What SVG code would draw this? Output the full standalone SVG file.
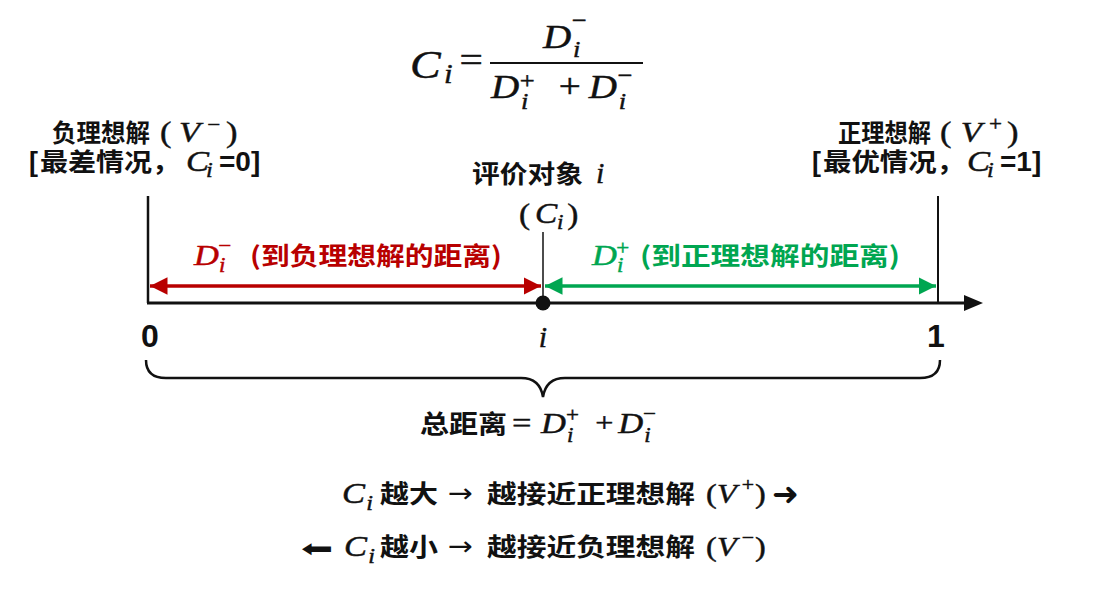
<svg xmlns="http://www.w3.org/2000/svg" width="1118" height="595" viewBox="0 0 1118 595">
<style>
.c{font-family:"Noto Sans CJK SC","Noto Sans",sans-serif;font-weight:700}
.m{font-family:"Liberation Serif","DejaVu Serif",serif;font-style:italic;stroke:#111;stroke-width:0.45}
.red .m{stroke:#B80000}
.grn .m{stroke:#00A651}
.u{font-style:normal}
.b{font-family:"Liberation Sans",Arial,sans-serif;font-weight:700}
.d{font-family:"DejaVu Sans",sans-serif}
.red{fill:#B80000}
.grn{fill:#00A651}
.k{fill:#111}
</style>
<defs>
<marker id="ar" viewBox="0 0 10 10" refX="10" refY="5" markerWidth="5" markerHeight="5" orient="auto-start-reverse" markerUnits="strokeWidth"><path d="M0,0 L10,5 L0,10 z" fill="#B80000"/></marker>
<marker id="ag" viewBox="0 0 10 10" refX="10" refY="5" markerWidth="5" markerHeight="5" orient="auto-start-reverse" markerUnits="strokeWidth"><path d="M0,0 L10,5 L0,10 z" fill="#00A651"/></marker>
</defs>
<rect width="1118" height="595" fill="#fff"/>

<g id="formula" class="k">
<text class="m" transform="translate(410,78) scale(1.15,1)"><tspan x="0" y="0" font-size="40">C</tspan><tspan x="29.5" y="5" font-size="27">i</tspan><tspan class="u" x="43" y="-6" font-size="36">=</tspan></text>
<line x1="490" y1="63" x2="643" y2="63" stroke="#111" stroke-width="2"/>
<text class="m" transform="translate(543,48) scale(1.15,1)" font-size="34"><tspan x="0" y="0">D</tspan><tspan x="26" y="9" font-size="23">i</tspan><tspan class="u" x="25" y="-20" font-size="23">−</tspan></text>
<text class="m" transform="translate(491,98) scale(1.15,1)" font-size="34"><tspan x="0" y="0">D</tspan><tspan x="26" y="11" font-size="23">i</tspan><tspan class="u" x="25" y="-10" font-size="23">+</tspan><tspan class="u" x="59" y="-1" font-size="34">+</tspan><tspan x="85" y="0">D</tspan><tspan x="111" y="11" font-size="23">i</tspan><tspan class="u" x="110" y="-15" font-size="23">−</tspan></text>
</g>

<g id="neg-ideal" class="k">
<text class="c" x="52" y="142" font-size="25" textLength="98" lengthAdjust="spacingAndGlyphs">负理想解</text>
<text class="m" transform="translate(160,142) scale(1.15,1)" font-size="30"><tspan class="u" x="0" y="0">(</tspan><tspan x="16.5" y="0">V</tspan><tspan class="u" x="41" y="-11" font-size="20">−</tspan><tspan class="u" x="57.4" y="0">)</tspan></text>
<text class="b" x="29" y="171" font-size="27">[</text>
<text class="c" x="40" y="171" font-size="25" textLength="140" lengthAdjust="spacingAndGlyphs">最差情况，</text>
<text class="m" transform="translate(186,171) scale(1.15,1)" font-size="30"><tspan x="0" y="0">C</tspan><tspan x="17.5" y="6" font-size="21">i</tspan></text>
<text class="b" x="219" y="171" font-size="28">=0]</text>
</g>

<g id="pos-ideal" class="k">
<text class="c" x="838" y="142" font-size="25" textLength="93" lengthAdjust="spacingAndGlyphs">正理想解</text>
<text class="m" transform="translate(940,142) scale(1.15,1)" font-size="30"><tspan class="u" x="0" y="0">(</tspan><tspan x="18" y="0">V</tspan><tspan class="u" x="42.6" y="-11" font-size="20">+</tspan><tspan class="u" x="58.3" y="0">)</tspan></text>
<text class="b" x="812" y="171" font-size="27">[</text>
<text class="c" x="823" y="171" font-size="25" textLength="142" lengthAdjust="spacingAndGlyphs">最优情况，</text>
<text class="m" transform="translate(967,171) scale(1.15,1)" font-size="30"><tspan x="0" y="0">C</tspan><tspan x="17.5" y="6" font-size="21">i</tspan></text>
<text class="b" x="1000" y="171" font-size="28">=1]</text>
</g>

<g id="object" class="k">
<text class="c" x="472" y="183" font-size="25" textLength="111" lengthAdjust="spacingAndGlyphs">评价对象</text>
<text class="m" x="596" y="183" font-size="30">i</text>
<text class="m" transform="translate(519,224) scale(1.15,1)" font-size="29"><tspan class="u" x="0" y="0">(</tspan><tspan x="14" y="-1">C</tspan><tspan x="33" y="5" font-size="20">i</tspan><tspan class="u" x="42" y="0">)</tspan></text>
</g>

<g id="connectors">
<line x1="148" y1="196" x2="148" y2="303" stroke="#111" stroke-width="2.5"/>
<line x1="938" y1="196" x2="938" y2="303" stroke="#111" stroke-width="2"/>
<line x1="543" y1="232" x2="543" y2="303" stroke="#111" stroke-width="1.5"/>
<line x1="147" y1="303" x2="968" y2="303" stroke="#111" stroke-width="3"/>
<path d="M983,303 L964,295 L964,311 z" fill="#111"/>
<line x1="150" y1="286" x2="541" y2="286" stroke="#B80000" stroke-width="3.5" marker-start="url(#ar)" marker-end="url(#ar)"/>
<line x1="545" y1="286" x2="936" y2="286" stroke="#00A651" stroke-width="3.5" marker-start="url(#ag)" marker-end="url(#ag)"/>
<circle cx="543" cy="303" r="7.5" fill="#111"/>
<path d="M146,360 Q146,378 166,378 L521,378 Q540,378 543,397 Q546,378 565,378 L920,378 Q940,378 940,360" fill="none" stroke="#111" stroke-width="2.5"/>
</g>

<g id="dminus" class="red">
<text class="m" transform="translate(194,265) scale(1.15,1)" font-size="30"><tspan x="0" y="0">D</tspan><tspan x="21.7" y="7" font-size="20">i</tspan><tspan class="u" x="21" y="-13" font-size="20">−</tspan></text>
<text class="c" x="250" y="265" font-size="25" textLength="252" lengthAdjust="spacingAndGlyphs">(到负理想解的距离)</text>
</g>

<g id="dplus" class="grn">
<text class="m" transform="translate(592,265) scale(1.15,1)" font-size="30"><tspan x="0" y="0">D</tspan><tspan x="21.7" y="7" font-size="20">i</tspan><tspan class="u" x="21" y="-10" font-size="20">+</tspan></text>
<text class="c" x="640" y="265" font-size="25" textLength="260" lengthAdjust="spacingAndGlyphs">(到正理想解的距离)</text>
</g>

<g id="ticks" class="k">
<text class="b" x="150" y="347" font-size="32" text-anchor="middle">0</text>
<text class="m" x="543" y="347" font-size="30" text-anchor="middle">i</text>
<text class="b" x="936" y="347" font-size="32" text-anchor="middle">1</text>
</g>

<g id="total" class="k">
<text class="c" x="420" y="433" font-size="25" textLength="87" lengthAdjust="spacingAndGlyphs">总距离</text>
<text class="m" transform="translate(512,433) scale(1.15,1)" font-size="30"><tspan class="u" x="0" y="0" font-size="30">=</tspan><tspan x="25.2" y="0">D</tspan><tspan x="47.8" y="9" font-size="20">i</tspan><tspan class="u" x="47" y="-11" font-size="20">+</tspan><tspan class="u" x="72.5" y="-1" font-size="28">+</tspan><tspan x="92.5" y="0">D</tspan><tspan x="115" y="9" font-size="20">i</tspan><tspan class="u" x="114" y="-13" font-size="20">−</tspan></text>
</g>

<g id="rule-up" class="k">
<text class="m" transform="translate(342,503) scale(1.15,1)" font-size="30"><tspan x="0" y="0">C</tspan><tspan x="21" y="7" font-size="21">i</tspan></text>
<text class="c" x="380" y="503" font-size="25" textLength="58" lengthAdjust="spacingAndGlyphs">越大</text>
<text class="d" transform="translate(448,502) scale(1.15,1)" font-size="26">→</text>
<text class="c" x="487" y="503" font-size="25" textLength="208" lengthAdjust="spacingAndGlyphs">越接近正理想解</text>
<text class="m" transform="translate(706,503) scale(1.15,1)" font-size="28"><tspan class="u" x="0" y="0">(</tspan><tspan x="9.6" y="0">V</tspan><tspan class="u" x="31" y="-12" font-size="19">+</tspan><tspan class="u" x="42.6" y="0">)</tspan></text>
<text class="d" x="772" y="505" font-size="32">➜</text>
</g>

<g id="rule-down" class="k">
<text class="d" transform="translate(301,557) scale(1.6,1)" font-size="24">⬅</text>
<text class="m" transform="translate(344,556) scale(1.15,1)" font-size="30"><tspan x="0" y="0">C</tspan><tspan x="21" y="7" font-size="21">i</tspan></text>
<text class="c" x="380" y="556" font-size="25" textLength="58" lengthAdjust="spacingAndGlyphs">越小</text>
<text class="d" transform="translate(448,555) scale(1.15,1)" font-size="26">→</text>
<text class="c" x="487" y="556" font-size="25" textLength="208" lengthAdjust="spacingAndGlyphs">越接近负理想解</text>
<text class="m" transform="translate(706,556) scale(1.15,1)" font-size="28"><tspan class="u" x="0" y="0">(</tspan><tspan x="9.6" y="0">V</tspan><tspan class="u" x="31" y="-12" font-size="19">−</tspan><tspan class="u" x="42.6" y="0">)</tspan></text>
</g>
</svg>
